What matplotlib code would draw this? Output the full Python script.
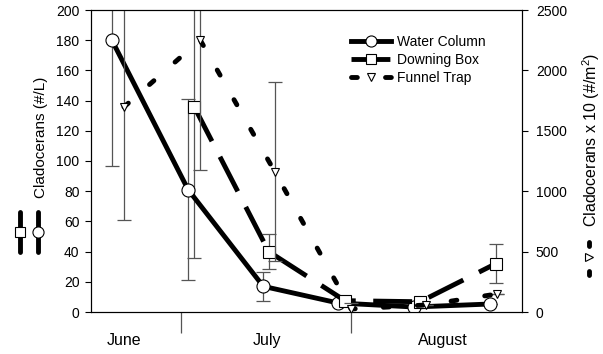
import matplotlib
matplotlib.use("Agg")
import matplotlib.pyplot as plt
from matplotlib.lines import Line2D
import numpy as np

plt.rcParams['font.family'] = ['Liberation Sans', 'DejaVu Sans']
plt.rcParams['mathtext.fontset'] = 'custom'
plt.rcParams['mathtext.rm'] = 'Liberation Sans'
plt.rcParams['mathtext.it'] = 'Liberation Sans'

# ---- data (x = days since 1 June) ----
wc_day = [17.4, 31.3, 45.0, 58.6, 72.5, 86.4]
wc_val = [180, 81, 17, 6, 3.3, 5.3]
wc_err = [83, 60, 9.7, 0, 0, 0]

db_day = [32.4, 46.0, 59.9, 73.6, 87.4]
db_val = [136, 40, 7.5, 6.8, 32]
db_err = [100, 11.5, 0, 0, 13]

ft_day = [19.6, 33.5, 47.1, 61.0, 74.7, 87.6]
ft_val = [1697, 2252, 1161, 25, 58, 149]
ft_err = [936, 1077, 742, 50, 0, 0]

month_bounds = [30, 61]
month_mid = [19.6, 45.7, 77.8]
month_labels = ['June', 'July', 'August']

W, H = 603, 354
fig = plt.figure(figsize=(W / 100, H / 100), dpi=100)
ax = fig.add_axes([91 / W, 1 - 312 / H, (522 - 91) / W, (312 - 10) / H])
ax2 = ax.twinx()

errc = '#555555'
lw = 3.5

ax.errorbar(wc_day, wc_val, yerr=wc_err, fmt='none', ecolor=errc, elinewidth=0.9,
            capsize=5, capthick=0.9, zorder=1)
ax.errorbar(db_day, db_val, yerr=db_err, fmt='none', ecolor=errc, elinewidth=0.9,
            capsize=5, capthick=0.9, zorder=1)
l_wc, = ax.plot(wc_day, wc_val, color='black', lw=lw, marker='o', ms=9.4,
                mfc='white', mec='black', mew=0.8, zorder=3, label='Water Column')
l_db, = ax.plot(db_day, db_val, color='black', lw=lw, ls=(0, (8.0, 3.6)), marker='s',
                ms=8.5, mfc='white', mec='black', mew=0.8, zorder=3, label='Downing Box')
ax2.errorbar(ft_day, ft_val, yerr=ft_err, fmt='none', ecolor=errc, elinewidth=0.9,
             capsize=5, capthick=0.9, zorder=1)
l_ft, = ax2.plot(ft_day, ft_val, color='black', lw=lw, ls=(0, (1.2, 5.8)),
                 dash_capstyle='round', marker='v', ms=6, mfc='white', mec='black',
                 mew=0.8, zorder=3, label='Funnel Trap')

ax.set_xlim(13.59, 92.18)
ax.set_ylim(0, 200)
ax2.set_ylim(0, 2500)
ax.set_yticks(np.arange(0, 201, 20))
ax2.set_yticks(np.arange(0, 2501, 500))

ax.set_xticks(month_bounds)
ax.set_xticklabels([])
ax.tick_params(axis='x', which='major', direction='out', length=15, width=0.9, color=errc)
ax.set_xticks(month_mid, minor=True)
ax.set_xticklabels(month_labels, minor=True, fontsize=11.5)
ax.tick_params(axis='x', which='minor', length=0, pad=15)

ax.tick_params(axis='y', direction='out', length=4, width=0.8, labelsize=10, pad=4.3)
ax2.tick_params(axis='y', direction='out', length=4.5, width=0.8, labelsize=10, pad=5.5)
for a in (ax, ax2):
    for s in a.spines.values():
        s.set_linewidth(0.8)

leg = ax2.legend(handles=[l_wc, l_db, l_ft], loc='upper left',
                 bbox_to_anchor=(351 / W, 1 - 35 / H), bbox_transform=fig.transFigure,
                 frameon=False, fontsize=10, handlelength=2.9, handletextpad=0.4,
                 labelspacing=0.3, borderpad=0, borderaxespad=0, numpoints=1)
for h in leg.legend_handles:
    h.set_markersize(h.get_markersize() * 0.85)

# ---- axis labels with series glyphs ----
fig.text(41 / W, 1 - 137 / H, 'Cladocerans (#/L)', rotation=90, ha='center', va='center',
         fontsize=11)
fig.text(591 / W, 1 - 140 / H, 'Cladocerans x 10 (#/m$^2$)', rotation=90, ha='center',
         va='center', fontsize=11.5)

def px(x, y):
    return x / W, 1 - y / H

for gx, mk, ms in [(20, 's', 7.5), (38, 'o', 8)]:
    xs, ys = zip(px(gx, 212), px(gx, 252))
    fig.add_artist(Line2D(xs, ys, transform=fig.transFigure, color='black', lw=lw,
                          solid_capstyle='round'))
    mx, my = px(gx, 232)
    fig.add_artist(Line2D([mx], [my], transform=fig.transFigure, marker=mk, ms=ms,
                          mfc='white', mec='black', mew=0.8, ls='none'))

for y0, y1 in [(242, 246), (271, 275)]:
    xs, ys = zip(px(589, y0), px(589, y1))
    fig.add_artist(Line2D(xs, ys, transform=fig.transFigure, color='black', lw=lw,
                          solid_capstyle='round'))
mx, my = px(589, 257)
fig.add_artist(Line2D([mx], [my], transform=fig.transFigure, marker='>', ms=6,
                      mfc='white', mec='black', mew=0.8, ls='none'))

fig.savefig('out.png', dpi=100)
